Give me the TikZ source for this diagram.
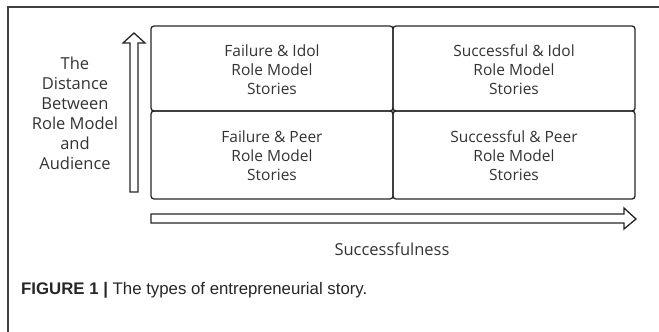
\documentclass[tikz,border=0pt]{standalone}
\usepackage{fontspec}
\setmainfont{Open Sans}
\newfontfamily\capfont{Liberation Sans}
\begin{document}
\begin{tikzpicture}[x=1pt,y=-1pt,
  frameline/.style={line width=1.2pt,draw=black!75},
  cell/.style={draw=black!85,line width=1.3pt,rounded corners=3pt},
  celltext/.style={align=center,text=black!80,font=\fontsize{15.5}{19}\selectfont},
  bigarrow/.style={draw=black!85,line width=1.3pt,fill=white,line join=miter},
  axislabel/.style={align=center,text=black!80,font=\fontsize{16.5}{20}\selectfont}]
\useasboundingbox (0,0) rectangle (659,332);
% frame
\draw[frameline] (8,332) -- (8,7) -- (659,7);
% cells
\draw[cell] (151,26) rectangle (393,111);
\draw[cell] (393,26) rectangle (635,111);
\draw[cell] (151,111) rectangle (393,199);
\draw[cell] (393,111) rectangle (635,199);
\node[celltext] (fi) at (272,70) {Failure \& Idol\\Role Model\\Stories};
\node[celltext] (si) at (514,70) {Successful \& Idol\\Role Model\\Stories};
\node[celltext] (fp) at (272,156) {Failure \& Peer\\Role Model\\Stories};
\node[celltext] (sp) at (514,156) {Successful \& Peer\\Role Model\\Stories};
% up arrow
\draw[bigarrow] (130,192) -- (130,43) -- (123,43) -- (134,33) -- (145,43) -- (138,43) -- (138,192) -- cycle;
% right arrow
\draw[bigarrow] (151,214) -- (624,214) -- (624,208) -- (636,219) -- (624,229) -- (624,223) -- (151,223) -- cycle;
% labels
\node[axislabel] (dist) at (75,113) {The\\Distance\\Between\\Role Model\\and\\Audience};
\node[axislabel] (succ) at (392,249) {Successfulness};
\node[anchor=west,inner sep=0pt,text=black!85,font=\capfont\fontsize{16.8}{20}\selectfont] (cap) at (21,290) {\textbf{FIGURE 1 |} The types of entrepreneurial story.};
\end{tikzpicture}
\end{document}
